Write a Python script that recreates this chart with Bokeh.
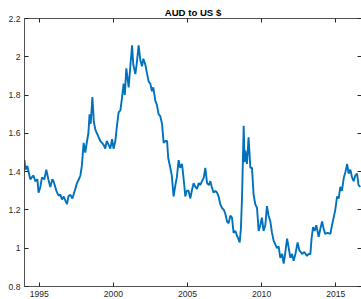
from bokeh.plotting import figure
from bokeh.models import Range1d, LinearAxis, FixedTicker
from bokeh.embed import file_html
from bokeh.resources import INLINE

# Dates (decimal years) and AUD per US $ values
years = [1994.00, 1994.06, 1994.19, 1994.39, 1994.60, 1994.73, 1994.87, 1994.95,
         1995.07, 1995.18, 1995.34, 1995.47, 1995.61, 1995.74, 1995.88, 1995.96,
         1996.15, 1996.30, 1996.42, 1996.53, 1996.65, 1996.75, 1996.87, 1996.96,
         1997.09, 1997.23, 1997.31, 1997.43, 1997.54, 1997.67, 1997.77, 1997.87,
         1997.99, 1998.10, 1998.22, 1998.31, 1998.39, 1998.47, 1998.58, 1998.68,
         1998.78, 1998.89, 1999.00, 1999.12, 1999.23, 1999.34, 1999.45, 1999.55,
         1999.68, 1999.79, 1999.91, 2000.01, 2000.13, 2000.24, 2000.35, 2000.47,
         2000.57, 2000.69, 2000.77, 2000.87, 2001.03, 2001.14, 2001.26, 2001.34,
         2001.48, 2001.58, 2001.70, 2001.82, 2001.93, 2002.02, 2002.15, 2002.25,
         2002.38, 2002.49, 2002.60, 2002.69, 2002.83, 2002.93, 2003.05, 2003.16,
         2003.28, 2003.39, 2003.50, 2003.62, 2003.70, 2003.84, 2003.94, 2004.06,
         2004.18, 2004.28, 2004.40, 2004.51, 2004.63, 2004.70, 2004.78, 2004.85,
         2004.95, 2005.07, 2005.19, 2005.29, 2005.41, 2005.53, 2005.64, 2005.76,
         2005.86, 2005.98, 2006.10, 2006.20, 2006.32, 2006.44, 2006.54, 2006.64,
         2006.76, 2006.88, 2006.99, 2007.10, 2007.21, 2007.33, 2007.45, 2007.55,
         2007.67, 2007.77, 2007.89, 2008.00, 2008.11, 2008.23, 2008.34, 2008.43,
         2008.52, 2008.60, 2008.68, 2008.79, 2008.85, 2008.90, 2009.01, 2009.12,
         2009.24, 2009.35, 2009.46, 2009.57, 2009.69, 2009.80, 2009.91, 2010.02,
         2010.13, 2010.25, 2010.36, 2010.47, 2010.59, 2010.70, 2010.81, 2010.92,
         2011.04, 2011.15, 2011.26, 2011.38, 2011.49, 2011.60, 2011.72, 2011.83,
         2011.94, 2012.05, 2012.16, 2012.28, 2012.43, 2012.54, 2012.73, 2012.88,
         2013.06, 2013.18, 2013.29, 2013.37, 2013.47, 2013.58, 2013.69, 2013.85,
         2013.96, 2014.08, 2014.19, 2014.29, 2014.46, 2014.64, 2014.75, 2014.86,
         2014.97, 2015.09, 2015.20, 2015.31, 2015.42, 2015.55, 2015.66, 2015.77,
         2015.87, 2015.99, 2016.10, 2016.21, 2016.32, 2016.44, 2016.54, 2016.66]

aud_usd = [1.46, 1.41, 1.43, 1.36, 1.38, 1.35, 1.36, 1.29,
           1.32, 1.37, 1.36, 1.41, 1.36, 1.32, 1.36, 1.35,
           1.30, 1.275, 1.28, 1.255, 1.27, 1.25, 1.23, 1.27,
           1.28, 1.26, 1.28, 1.31, 1.34, 1.36, 1.38, 1.43,
           1.55, 1.50, 1.56, 1.60, 1.70, 1.65, 1.79, 1.66,
           1.62, 1.60, 1.58, 1.56, 1.55, 1.54, 1.52, 1.56,
           1.54, 1.52, 1.57, 1.52, 1.56, 1.64, 1.71, 1.72,
           1.78, 1.86, 1.80, 1.94, 1.84, 1.95, 2.06, 1.96,
           1.91, 1.97, 2.06, 1.98, 1.95, 1.99, 1.96, 1.92,
           1.87, 1.86, 1.82, 1.84, 1.77, 1.75, 1.70, 1.69,
           1.65, 1.55, 1.56, 1.56, 1.47, 1.42, 1.38, 1.27,
           1.33, 1.37, 1.46, 1.42, 1.44, 1.39, 1.33, 1.27,
           1.30, 1.30, 1.26, 1.30, 1.34, 1.32, 1.31, 1.34,
           1.33, 1.35, 1.37, 1.42, 1.34, 1.33, 1.35, 1.32,
           1.29, 1.30, 1.29, 1.27, 1.23, 1.21, 1.20, 1.18,
           1.14, 1.13, 1.17, 1.16, 1.08, 1.09, 1.065, 1.05,
           1.03, 1.10, 1.27, 1.64, 1.45, 1.51, 1.44, 1.58,
           1.42, 1.42, 1.28, 1.23, 1.21, 1.09, 1.12, 1.16,
           1.09, 1.12, 1.22, 1.17, 1.14, 1.08, 1.04, 1.02,
           1.00, 1.01, 0.95, 0.97, 0.92, 0.98, 1.05, 1.00,
           0.95, 0.97, 0.935, 0.97, 1.03, 0.99, 0.97, 0.98,
           0.96, 0.97, 0.97, 1.05, 1.11, 1.09, 1.12, 1.06,
           1.10, 1.14, 1.10, 1.075, 1.08, 1.075, 1.12, 1.16,
           1.20, 1.27, 1.26, 1.32, 1.30, 1.37, 1.40, 1.44,
           1.39, 1.41, 1.37, 1.35, 1.38, 1.39, 1.33, 1.32]

x_ticks = [1995, 2000, 2005, 2010, 2015]
x_tick_labels = ["1995", "2000", "2005", "2010", "2015"]
y_ticks = [0.8, 1.0, 1.2, 1.4, 1.6, 1.8, 2.0, 2.2]
y_tick_labels = ["0.8", "1", "1.2", "1.4", "1.6", "1.8", "2", "2.2"]

AXC = "#262626"
FONT = "Liberation Sans"

p = figure(width=361, height=299, output_backend="svg", toolbar_location=None,
           x_range=Range1d(1994.0, 2016.74), y_range=Range1d(0.8, 2.2),
           min_border_left=24, min_border_right=0, min_border_top=18, min_border_bottom=0,
           title="AUD to US $")
p.title.align = "center"
p.title.text_font = FONT
p.title.text_font_size = "9.6px"
p.title.text_font_style = "bold"
p.title.text_color = "#000000"
p.title.standoff = 1
p.title.offset = 2

p.grid.visible = False
p.outline_line_color = None
p.background_fill_color = "white"
p.border_fill_color = "white"

p.line(years, aud_usd, line_color="#0072BD", line_width=1.9)

def style(ax, ticks, labels, show_labels=True, show_line=True):
    ax.ticker = FixedTicker(ticks=ticks)
    ax.minor_tick_line_color = None
    ax.major_tick_in = 4
    ax.major_tick_out = 0
    ax.major_tick_line_color = AXC
    ax.axis_line_color = AXC if show_line else None
    ax.axis_line_alpha = 0.8
    ax.axis_label_standoff = 0
    if show_labels:
        ax.major_label_overrides = {t: l for t, l in zip(ticks, labels)}
        ax.major_label_text_font = FONT
        ax.major_label_text_color = AXC
        ax.major_label_text_font_size = "8.6px"
        ax.major_label_standoff = 4
    else:
        ax.major_label_text_color = None
        ax.major_label_standoff = 0

style(p.xaxis[0], x_ticks, x_tick_labels)
style(p.yaxis[0], y_ticks, y_tick_labels)

top = LinearAxis()
style(top, x_ticks, x_tick_labels, show_labels=False)
p.add_layout(top, "above")
right = LinearAxis()
style(right, y_ticks, y_tick_labels, show_labels=False, show_line=False)
p.add_layout(right, "right")

open("out.html", "w").write(file_html(p, INLINE))
